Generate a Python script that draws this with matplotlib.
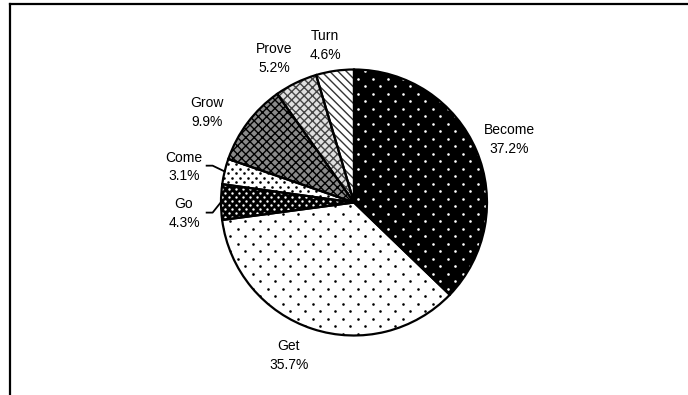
import matplotlib
matplotlib.use("Agg")
import matplotlib.pyplot as plt
from matplotlib.lines import Line2D
import numpy as np

plt.rcParams['font.family'] = ['Liberation Sans', 'DejaVu Sans']
plt.rcParams['hatch.linewidth'] = 1.0

labels = ['Become', 'Get', 'Go', 'Come', 'Grow', 'Prove', 'Turn']
shares = [37.2, 35.7, 4.3, 3.1, 9.9, 5.2, 4.6]

# fill per slice; dotted slices get a dot grid, the rest a matplotlib hatch
fills = ['black', 'white', 'black', 'white', '#8a8a8a', '#e0e0e0', 'white']
hatches = [None, None, None, None, 'xxxx', 'xxxx', '\\\\\\\\']
hatch_cols = [None, None, None, None, 'black', '#444444', '#333333']
# dot grids: (x step px, y step px, colour, size)
dots = [(15, 7.5, 'white', 3.5), (15, 7.5, 'black', 3.5), (7, 4, 'white', 3.0),
        (8, 4.5, 'black', 3.5), None, None, None]

# label centres, in pie radii from the centre
label_pos = [(1.165, 0.474), (-0.489, -1.147), (-1.278, -0.086), (-1.278, 0.267),
             (-1.105, 0.68), (-0.602, 1.086), (-0.218, 1.184)]
leader = ['Go', 'Come']

W, H = 688, 395
R = 133.0          # pie radius in pixels
cx, cy = 354, 202.5  # pie centre in pixels (from top-left)

fig = plt.figure(figsize=(W / 100, H / 100), dpi=100)
ax = fig.add_axes([0, 0, 1, 1])


def dot_fill(wedge, step_x, step_y, color, size):
    # staggered dot texture clipped to the wedge
    xs = np.arange(-1.1, 1.1, step_x / R)
    ys = np.arange(-1.1, 1.1, step_y / R)
    gx, gy = np.meshgrid(xs, ys)
    gx[1::2] += step_x / R / 2
    sc = ax.scatter(gx.ravel(), gy.ravel(), s=size, c=color, marker='o',
                    linewidths=0, zorder=1.5)
    sc.set_clip_path(wedge)


wedges, _ = ax.pie(shares, startangle=90, counterclock=False,
                   wedgeprops=dict(linewidth=0))
for w, fc, h, hc, d in zip(wedges, fills, hatches, hatch_cols, dots):
    w.set_facecolor(fc)
    if h:
        w.set_hatch(h)
        w.set_edgecolor(hc)
    else:
        w.set_edgecolor(fc)
    if d:
        dot_fill(w, *d)

# outlines on top
ax.pie(shares, startangle=90, counterclock=False,
       wedgeprops=dict(fill=False, edgecolor='black', linewidth=1.6, zorder=2))

ax.set_aspect('equal')
ax.set_xlim(-cx / R, (W - cx) / R)
ax.set_ylim(-(H - cy) / R, cy / R)
ax.axis('off')

for w, name, pct, (lx, ly) in zip(wedges, labels, shares, label_pos):
    ax.text(lx, ly, f"{name}\n{pct:.1f}%", ha='center', va='center',
            fontsize=10, linespacing=1.45)
    if name in leader:
        mid = np.deg2rad((w.theta1 + w.theta2) / 2)
        xs = [lx + 0.17, lx + 0.215, np.cos(mid)]
        ys = [ly + 0.01, ly + 0.01, np.sin(mid)]
        ax.plot(xs, ys, color='black', linewidth=1.3)

# frame (top and left edges only)
fig.add_artist(Line2D([10 / W, 1], [1 - 4 / H, 1 - 4 / H], color='black', linewidth=1.6))
fig.add_artist(Line2D([10 / W, 10 / W], [0, 1 - 4 / H], color='black', linewidth=1.6))

fig.savefig('out.png', dpi=100)
